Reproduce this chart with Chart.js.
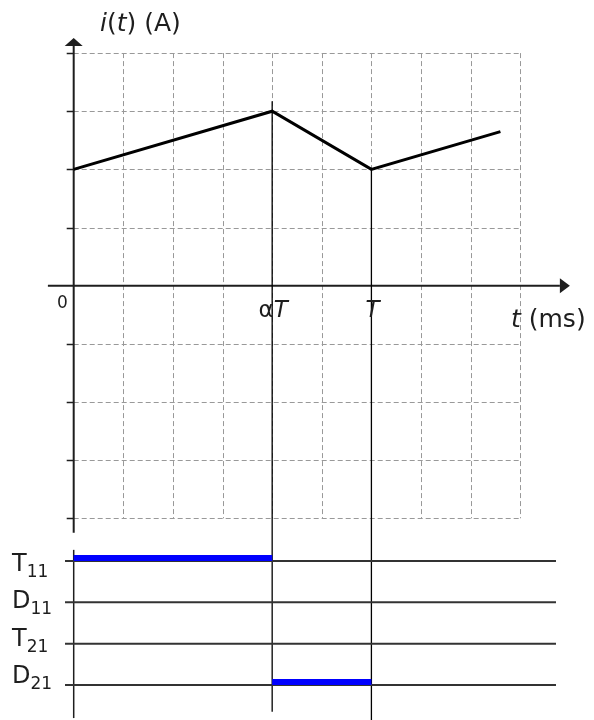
<!DOCTYPE html>
<html>
<head>
<meta charset="utf-8">
<script src="https://cdn.jsdelivr.net/npm/chart.js@4.4.1/dist/chart.umd.min.js"></script>
<style>
  body { margin: 0; background: #fff; }
  #wrap { width: 594px; height: 720px; }
</style>
</head>
<body>
<div id="wrap"><canvas id="chopper"></canvas></div>
<script>
// current waveform i(t), time in grid units
const currentT = [0, 4, 6, 8.6];
const currentI = [2, 3, 2, 2.65];

// grid lines (time and current units)
const gridX = [0, 1, 2, 3, 4, 5, 6, 7, 8, 9];
const gridY = [-4, -3, -2, -1, 0, 1, 2, 3, 4];

// marked instants on the time axis
const markT = [4, 6];
const markLabels = ["α|T", "|T"];   // "|" splits upright part / italic part

// switch rows of the conduction diagram
const rowNames = ["T", "D", "T", "D"];
const rowSubs = ["11", "11", "21", "21"];
const rowLevel = [4, 3, 2, 1];
const onStart = [0, null, null, 4];
const onEnd = [4, null, null, 6];

const FONT = "'DejaVu Sans', Verdana, sans-serif";
const INK = "#1e1e1e";

function pt(x, y) { return { x: x, y: y }; }

const datasets = [];

// switch rows: black baselines
rowLevel.forEach(r => {
    datasets.push({
        data: [pt(-0.175, r), pt(9.72, r)],
        yAxisID: "yd",
        borderColor: "#333",
        borderWidth: 2,
        pointRadius: 0,
        showLine: true,
        order: 3
    });
});

// conduction intervals in blue (sits just on top of the row line)
rowLevel.forEach((r, k) => {
    if (onStart[k] === null) return;
    datasets.push({
        data: [pt(onStart[k], r + 0.07), pt(onEnd[k], r + 0.07)],
        yAxisID: "yd",
        borderColor: "#0000ff",
        borderWidth: 6,
        borderCapStyle: "butt",
        pointRadius: 0,
        showLine: true,
        order: 2
    });
});

// the current waveform
datasets.push({
    data: currentT.map((t, k) => pt(t, currentI[k])),
    yAxisID: "y",
    borderColor: "#000",
    borderWidth: 3,
    borderJoinStyle: "miter",
    pointRadius: 0,
    showLine: true,
    order: 1
});

function line(ctx, x1, y1, x2, y2) {
    ctx.beginPath();
    ctx.moveTo(x1, y1);
    ctx.lineTo(x2, y2);
    ctx.stroke();
}

// draws text made of upright / italic pieces, returns end x
function rich(ctx, x, y, parts) {
    parts.forEach(p => {
        ctx.font = (p.italic ? "italic " : "") + p.size + "px " + FONT;
        ctx.fillText(p.text, x, y + (p.dy || 0));
        x += ctx.measureText(p.text).width;
    });
    return x;
}

function richWidth(ctx, parts) {
    let w = 0;
    parts.forEach(p => {
        ctx.font = (p.italic ? "italic " : "") + p.size + "px " + FONT;
        w += ctx.measureText(p.text).width;
    });
    return w;
}

const decor = {
    id: "decor",
    beforeDatasetsDraw(chart) {
        const ctx = chart.ctx;
        const sx = chart.scales.x, sy = chart.scales.y, sd = chart.scales.yd;
        const X = v => sx.getPixelForValue(v);
        const Y = v => sy.getPixelForValue(v);
        const D = v => sd.getPixelForValue(v);
        const x0 = X(gridX[0]), x9 = X(gridX[gridX.length - 1]);
        const yTop = Y(gridY[gridY.length - 1]), yBot = Y(gridY[0]);

        ctx.save();
        // dashed grid
        ctx.strokeStyle = "#999";
        ctx.lineWidth = 1;
        ctx.setLineDash([5, 3]);
        gridX.slice(1).forEach(v => line(ctx, Math.round(X(v)) + 0.5, yTop, Math.round(X(v)) + 0.5, yBot));
        gridY.forEach(v => {
            if (v === 0) return;
            line(ctx, x0, Math.round(Y(v)) + 0.5, x9, Math.round(Y(v)) + 0.5);
        });
        ctx.setLineDash([]);

        // axes
        ctx.strokeStyle = INK;
        ctx.fillStyle = INK;
        ctx.lineWidth = 2;
        const ax = X(0), ay = Y(0);
        line(ctx, ax, Y(-4.25), ax, Y(4.26) + 8);
        line(ctx, X(-0.52), ay, X(10) - 10, ay);
        // arrow heads
        ctx.beginPath();
        ctx.moveTo(ax, Y(4.26));
        ctx.lineTo(ax - 9, Y(4.26) + 8);
        ctx.lineTo(ax + 9, Y(4.26) + 8);
        ctx.closePath();
        ctx.fill();
        ctx.beginPath();
        ctx.moveTo(X(10), ay);
        ctx.lineTo(X(10) - 10, ay - 7.5);
        ctx.lineTo(X(10) - 10, ay + 7.5);
        ctx.closePath();
        ctx.fill();
        // tick marks on the current axis
        ctx.lineWidth = 1.5;
        gridY.forEach(v => {
            if (v === 0) return;
            line(ctx, ax - 7, Math.round(Y(v)) + 0.5, ax, Math.round(Y(v)) + 0.5);
        });

        // lower axis for the conduction diagram
        ctx.lineWidth = 1.5;
        line(ctx, ax, D(4.27), ax, D(0.2));

        // instants αT and T
        ctx.strokeStyle = "#000";
        ctx.lineWidth = 1.3;
        line(ctx, X(markT[0]), Y(3.17), X(markT[0]), D(0.35));
        line(ctx, X(markT[1]), Y(2), X(markT[1]), chart.height);
        ctx.restore();
    },
    afterDatasetsDraw(chart) {
        const ctx = chart.ctx;
        const sx = chart.scales.x, sy = chart.scales.y, sd = chart.scales.yd;
        const X = v => sx.getPixelForValue(v);
        const Y = v => sy.getPixelForValue(v);
        const D = v => sd.getPixelForValue(v);
        ctx.save();
        ctx.fillStyle = INK;
        ctx.textBaseline = "alphabetic";
        ctx.textAlign = "left";

        // axis titles
        rich(ctx, 100, 31, [
            { text: "i", italic: true, size: 25 },
            { text: "(", size: 25 },
            { text: "t", italic: true, size: 25 },
            { text: ") (A)", size: 25 }
        ]);
        rich(ctx, 511, 327, [
            { text: "t", italic: true, size: 25 },
            { text: " (ms)", size: 25 }
        ]);

        // origin
        ctx.font = "17px " + FONT;
        ctx.textAlign = "right";
        ctx.fillText("0", X(0) - 6, Y(0) + 22);
        ctx.textAlign = "left";

        // instant labels
        markT.forEach((t, k) => {
            const bits = markLabels[k].split("|");
            const parts = [
                { text: bits[0], size: 23 },
                { text: bits[1], italic: true, size: 23 }
            ];
            const w = richWidth(ctx, parts);
            rich(ctx, X(t) - w / 2 + 1, Y(0) + 31, parts);
        });

        // row names with subscripts
        rowLevel.forEach((r, k) => {
            const base = D(r) + 10 - k * 4;
            rich(ctx, 12, base, [
                { text: rowNames[k], size: 24 },
                { text: rowSubs[k], size: 17, dy: 6 }
            ]);
        });
        ctx.restore();
    }
};

new Chart(document.getElementById("chopper"), {
    type: "scatter",
    data: { datasets: datasets },
    options: {
        responsive: true,
        maintainAspectRatio: false,
        animation: false,
        events: [],
        layout: { padding: 0 },
        plugins: { legend: { display: false }, tooltip: { enabled: false } },
        scales: {
            x: { type: "linear", display: false, min: -1.4853, max: 10.486 },
            y: { type: "linear", display: false, min: -7.469, max: 4.913 },
            yd: { type: "linear", display: false, min: 0.1532, max: 17.574 }
        }
    },
    plugins: [decor]
});
</script>
</body>
</html>
